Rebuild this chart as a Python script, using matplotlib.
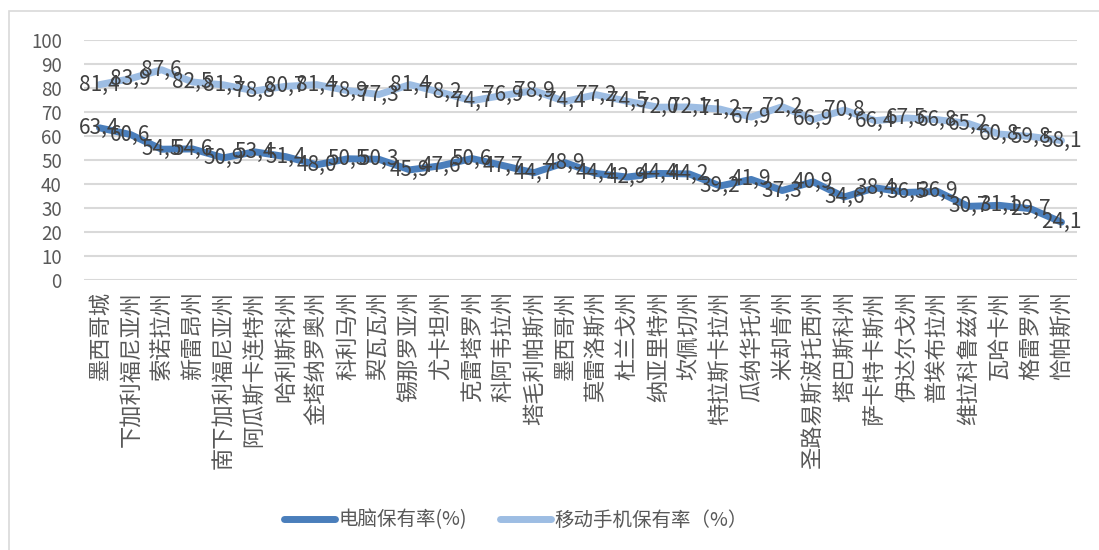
import matplotlib.pyplot as plt
from matplotlib.lines import Line2D

plt.rcParams['font.family'] = ['Noto Sans CJK SC', 'DejaVu Sans']

# 墨西哥各州电脑与移动手机保有率
states = ['墨西哥城', '下加利福尼亚州', '索诺拉州', '新雷昂州', '南下加利福尼亚州',
          '阿瓜斯卡连特州', '哈利斯科州', '金塔纳罗奥州', '科利马州', '契瓦瓦州',
          '锡那罗亚州', '尤卡坦州', '克雷塔罗州', '科阿韦拉州', '塔毛利帕斯州',
          '墨西哥州', '莫雷洛斯州', '杜兰戈州', '纳亚里特州', '坎佩切州',
          '特拉斯卡拉州', '瓜纳华托州', '米却肯州', '圣路易斯波托西州', '塔巴斯科州',
          '萨卡特卡斯州', '伊达尔戈州', '普埃布拉州', '维拉科鲁兹州', '瓦哈卡州',
          '格雷罗州', '恰帕斯州']
pc_rate = [63.4, 60.6, 54.5, 54.6, 50.9, 53.4, 51.4, 48.0, 50.5, 50.3,
           45.9, 47.6, 50.6, 47.7, 44.7, 48.9, 44.4, 42.9, 44.4, 44.2,
           39.2, 41.9, 37.3, 40.9, 34.6, 38.4, 36.5, 36.9, 30.7, 31.1,
           29.7, 24.1]
mobile_rate = [81.4, 83.9, 87.6, 82.5, 81.3, 78.8, 80.7, 81.4, 78.9, 77.3,
               81.4, 78.2, 74.7, 76.9, 78.9, 74.4, 77.2, 74.5, 72.0, 72.1,
               71.2, 67.9, 72.2, 66.9, 70.8, 66.4, 67.5, 66.8, 65.2, 60.8,
               59.8, 58.1]
yticks = list(range(0, 101, 10))

c_pc = '#4A7EBB'
c_mobile = '#9DBDE3'
c_text = '#595959'

fig = plt.figure(figsize=(10.99, 5.5), dpi=100)
ax = fig.add_axes([84 / 1099, 1 - 280 / 550, (1077 - 84) / 1099, 240 / 550])

# chart frame
fig.add_artist(plt.Rectangle((8.5 / 1099, -0.1), 1.2, 1 - 11 / 550 + 0.1,
                             transform=fig.transFigure, fill=False,
                             edgecolor='#D9D9D9', linewidth=1.2))

x = list(range(len(states)))
ax.plot(x, pc_rate, color=c_pc, linewidth=5, solid_capstyle='round', zorder=3)
ax.plot(x, mobile_rate, color=c_mobile, linewidth=5, solid_capstyle='round', zorder=2)

for series in (mobile_rate, pc_rate):
    for xi, v in zip(x, series):
        ax.text(xi, v, f'{v:.1f}'.replace('.', ','), ha='center', va='center',
                fontsize=15, color='#404040', zorder=5)

ax.set_xlim(-0.5, len(states) - 0.5)
ax.set_ylim(0, 100)
ax.set_yticks(yticks)
ax.set_yticklabels([str(t) for t in yticks], fontsize=13.5, color=c_text)
ax.tick_params(axis='y', length=0, pad=16)
ax.grid(axis='y', color='#D9D9D9', linewidth=1.5)
ax.set_axisbelow(True)
for s in ax.spines.values():
    s.set_visible(False)

# category names read bottom-to-top, ending just under the axis
ax.set_xticks(x)
ax.set_xticklabels(states, rotation=90, fontsize=16, color=c_text, va='top', ha='center')
ax.tick_params(axis='x', length=0, pad=8)

handles = [Line2D([], [], color=c_pc, linewidth=5, solid_capstyle='round'),
           Line2D([], [], color=c_mobile, linewidth=5, solid_capstyle='round')]
fig.legend(handles, ['电脑保有率(%)', '移动手机保有率（%）'], loc='center',
           bbox_to_anchor=(516 / 1099, 1 - 520 / 550), ncol=2, frameon=False,
           fontsize=14, labelcolor=c_text, handlelength=2.6, handletextpad=0.2,
           columnspacing=1.7)

fig.savefig('out.png', dpi=100)
